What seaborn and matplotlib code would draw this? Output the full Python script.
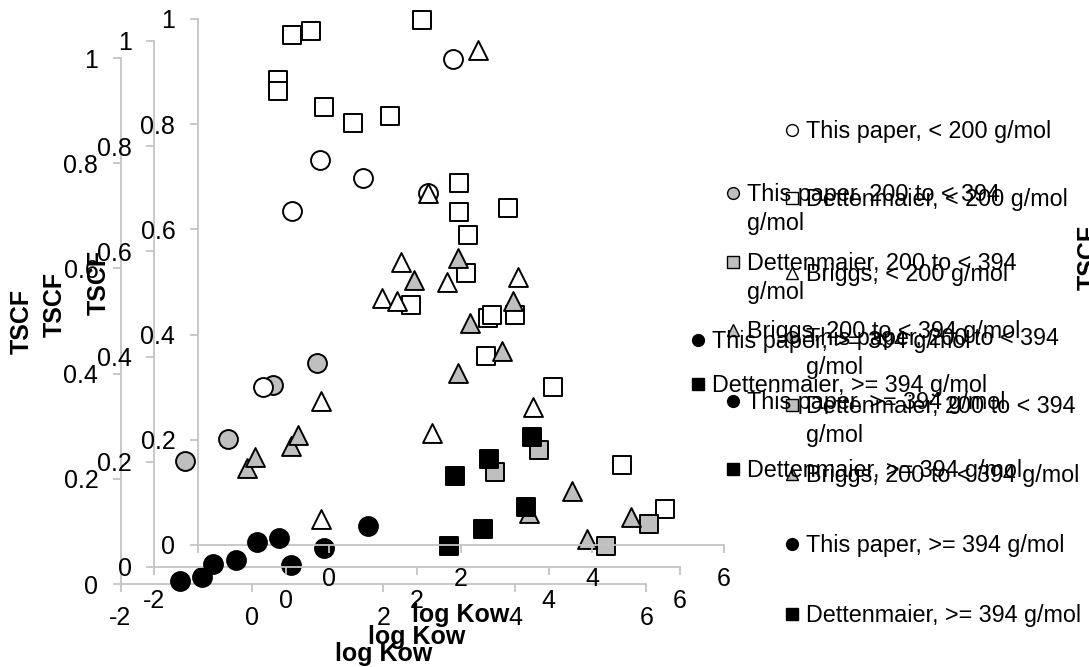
import numpy as np
import pandas as pd
import matplotlib
matplotlib.use("Agg")
import matplotlib.pyplot as plt
import seaborn as sns
from matplotlib.lines import Line2D

# ---------------- data (log Kow, TSCF) ----------------
tp_lt200_x = [-0.13, 0.51, -0.57, 1.88, 1.51, -1.01]
tp_lt200_y = [0.732, 0.698, 0.635, 0.924, 0.669, 0.300]

det_lt200_x = [-0.56, -0.27, -0.77, -0.77, -0.07, 0.36, 0.93, 1.42, 1.97, 1.98, 2.73,
               2.12, 2.09, 1.25, 2.42, 2.48, 2.83, 2.39, 3.40, 4.46, 5.11]
det_lt200_y = [0.970, 0.977, 0.884, 0.863, 0.833, 0.802, 0.816, 0.998, 0.688, 0.633, 0.641,
               0.589, 0.517, 0.456, 0.432, 0.437, 0.437, 0.359, 0.300, 0.152, 0.068]

briggs_lt200_x = [2.27, 1.51, 1.09, 1.80, 2.88, 0.80, 1.04, 3.11, 1.57, -0.12, -0.12]
briggs_lt200_y = [0.942, 0.669, 0.538, 0.500, 0.510, 0.470, 0.464, 0.262, 0.213, 0.274, 0.049]

tp_mid_x = [-1.53, -0.19]
tp_mid_y = [0.201, 0.346]

det_mid_x = [3.19, 4.87]
det_mid_y = [0.181, 0.040]

briggs_mid_x = [-0.58, -0.47, 1.96, 2.80, 2.63, 3.70, 4.59]
briggs_mid_y = [0.188, 0.209, 0.546, 0.464, 0.369, 0.103, 0.053]

tp_high_x = [-1.10, -0.76, 0.59]
tp_high_y = [0.006, 0.013, 0.036]

det_high_x = [3.00, 3.09]
det_high_y = [0.072, 0.205]

series_labels = ["This paper, < 200 g/mol", "Dettenmaier, < 200 g/mol", "Briggs, < 200 g/mol",
                 "This paper, 200 to < 394 g/mol", "Dettenmaier, 200 to < 394 g/mol",
                 "Briggs, 200 to < 394 g/mol", "This paper, >= 394 g/mol",
                 "Dettenmaier, >= 394 g/mol"]
x_ticks = [-2, 0, 2, 4, 6]
y_ticks = [0, 0.2, 0.4, 0.6, 0.8, 1.0]
y_tick_labels = ["0", "0.2", "0.4", "0.6", "0.8", "1"]

# ---------------- style ----------------
sns.set_style("white")
plt.rcParams['font.family'] = ['Liberation Sans', 'DejaVu Sans']

W, H = 1089, 667
fig = plt.figure(figsize=(W / 100, H / 100), dpi=100)

GRAY = "#BFBFBF"
AXC = "#C4C4C4"
markers = ['o', 's', '^', 'o', 's', '^', 'o', 's']
fills = ['white', 'white', 'white', GRAY, GRAY, GRAY, 'black', 'black']
data = [(tp_lt200_x, tp_lt200_y), (det_lt200_x, det_lt200_y), (briggs_lt200_x, briggs_lt200_y),
        (tp_mid_x, tp_mid_y), (det_mid_x, det_mid_y), (briggs_mid_x, briggs_mid_y),
        (tp_high_x, tp_high_y), (det_high_x, det_high_y)]

FS_TICK = 18
FS_TITLE = 18
FS_LEG = 16.8
AXW = 526.0
AXH = 526.0
# three overlapping copies of the chart: (left px, px of y=0, number of trailing series shown)
copies = [(120.5, 584, 2), (154, 567, 5), (197.5, 545, 8)]

for left, base, nshow in copies:
    ax = fig.add_axes([left / W, (H - base) / H, AXW / W, AXH / H])
    ax.patch.set_visible(False)
    start = len(data) - nshow
    for i in range(start, len(data)):
        xs, ys = data[i]
        df = pd.DataFrame({"log Kow": xs, "TSCF": ys})
        sns.scatterplot(data=df, x="log Kow", y="TSCF", ax=ax, marker=markers[i], s=185,
                        color=fills[i], edgecolor='black', linewidth=1.4,
                        clip_on=False, legend=False, zorder=3)
    ax.set_xlim(-2, 6)
    ax.set_ylim(0, 1)
    ax.set_xticks(x_ticks)
    ax.set_yticks(y_ticks)
    xl = [str(t) for t in x_ticks]
    if nshow == 8:
        xl[0] = ""
    ax.set_xticklabels(xl)
    ax.set_yticklabels(y_tick_labels)
    for s in ['top', 'right']:
        ax.spines[s].set_visible(False)
    for s in ['left', 'bottom']:
        ax.spines[s].set_color(AXC)
        ax.spines[s].set_linewidth(1.3)
        ax.spines[s].set_zorder(2)
    ax.tick_params(axis='both', which='major', direction='out', length=6, width=1.3,
                   color=AXC, labelsize=FS_TICK, pad=10, labelcolor='black',
                   bottom=True, left=True)
    ax.set_xlabel("log Kow", fontsize=FS_TITLE, fontweight='bold', color='black')
    ax.set_ylabel("TSCF", fontsize=FS_TITLE, fontweight='bold', color='black')
    ax.xaxis.set_label_coords(0.5, -70 / AXH)
    ax.xaxis.label.set_va('center')
    ax.yaxis.set_label_coords(-99 / AXW, 0.5)
    ax.yaxis.label.set_va('center')

# partially visible axis title at the right edge
fig.text(1089 / W, 1 - 257 / H, "TSCF", rotation=90, ha='center', va='center',
         fontsize=FS_TITLE, fontweight='bold', color='black')

# ---------------- legends (three overlapping copies) ----------------
LINE = 28.5


def legend_entry(xm, ym, idx, lines):
    fig.add_artist(Line2D([xm / W], [1 - ym / H], transform=fig.transFigure,
                          marker=markers[idx], markersize=8.5, markerfacecolor=fills[idx],
                          markeredgecolor='black', markeredgewidth=1.0, linestyle='none'))
    for k, t in enumerate(lines):
        fig.text((xm + 14) / W, 1 - (ym + 8.4 + k * LINE) / H, t, ha='left', va='baseline',
                 fontsize=FS_LEG, color='black')


def wrap(lbl):
    if "200 to" in lbl and not lbl.startswith("Briggs"):
        return [lbl.replace(" g/mol", ""), "g/mol"]
    return [lbl]


leg1_y = [130, 198, 273, 337, 405, 474, 544, 614]
for i, yv in enumerate(leg1_y):
    legend_entry(792, yv, i, wrap(series_labels[i]))

leg2_y = [193, 262, 330, 401, 469]
for k, yv in enumerate(leg2_y):
    i = 3 + k
    legend_entry(733, yv, i, wrap(series_labels[i]))

leg3_y = [340, 384]
for k, yv in enumerate(leg3_y):
    i = 6 + k
    legend_entry(698, yv, i, wrap(series_labels[i]))

fig.savefig("out.png", dpi=100)
